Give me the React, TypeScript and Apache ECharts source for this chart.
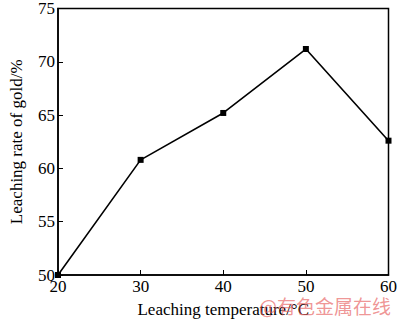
import React, { useEffect, useRef } from "react";
import * as echarts from "echarts";

const temperatures = [20, 30, 40, 50, 60];
const leachingRate = [50.0, 60.8, 65.2, 71.2, 62.6];
const xTicks = { min: 20, max: 60, interval: 10 };
const yTicks = { min: 50, max: 75, interval: 5 };
const xTitle = "Leaching temperature/\u00b0C";
const yTitle = "Leaching rate of gold/%";
const watermark = "@有色金属在线";

export default function App() {
  const ref = useRef<HTMLDivElement>(null);
  useEffect(() => {
    document.body.style.margin = "0";
    const chart = echarts.init(ref.current!, null, { renderer: "svg" });
    const font = "'Liberation Serif', 'Times New Roman', serif";
    chart.setOption({
      animation: false,
      backgroundColor: "#ffffff",
      grid: {
        left: 48,
        right: 8,
        top: 6,
        bottom: 42,
        show: true,
        borderColor: "#000",
        borderWidth: 1.5,
      },
      xAxis: {
        type: "value",
        min: xTicks.min,
        max: xTicks.max,
        interval: xTicks.interval,
        name: xTitle,
        nameLocation: "middle",
        nameGap: 26,
        nameTextStyle: { fontFamily: font, fontSize: 17, color: "#000" },
        axisLine: { lineStyle: { color: "#000", width: 1.5 } },
        axisTick: { inside: true, length: 5, lineStyle: { color: "#000", width: 1 } },
        axisLabel: { fontFamily: font, fontSize: 17, color: "#000", margin: 3 },
        splitLine: { show: false },
      },
      yAxis: {
        type: "value",
        min: yTicks.min,
        max: yTicks.max,
        interval: yTicks.interval,
        name: yTitle,
        nameLocation: "middle",
        nameGap: 33,
        nameTextStyle: { fontFamily: font, fontSize: 17, color: "#000" },
        axisLine: { show: true, lineStyle: { color: "#000", width: 1.5 } },
        axisTick: { show: true, inside: true, length: 5, lineStyle: { color: "#000", width: 1 } },
        axisLabel: { fontFamily: font, fontSize: 17, color: "#000", margin: 3 },
        splitLine: { show: false },
      },
      series: [
        {
          type: "line",
          data: temperatures.map((t, i) => [t, leachingRate[i]]),
          symbol: "rect",
          symbolSize: 6,
          lineStyle: { color: "#000", width: 1.6 },
          itemStyle: { color: "#000" },
          clip: false,
        },
      ],
      graphic: [
        {
          type: "text",
          left: 259,
          top: 296,
          z: 100,
          style: {
            text: watermark,
            fontFamily: "'Noto Sans CJK SC', sans-serif",
            fontSize: 19,
            fill: "rgba(230, 90, 90, 0.65)",
          },
        },
      ],
    });
    return () => chart.dispose();
  }, []);
  return <div ref={ref} style={{ width: 400, height: 323 }} />;
}
